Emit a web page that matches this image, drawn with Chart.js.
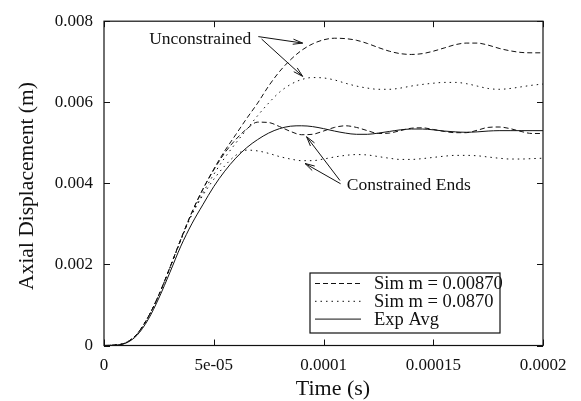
<!DOCTYPE html>
<html>
<head>
<meta charset="utf-8">
<script src="https://cdn.jsdelivr.net/npm/chart.js@4"></script>
<style>
  body { margin: 0; background: #fff; }
</style>
</head>
<body>
<canvas id="dispGraph" width="581" height="401"></canvas>
<script>
// time in microseconds, displacement in millimetres (axis labels are in s and m)
const timeUs = [0, 5, 10, 15, 20, 25, 30, 35, 40, 45, 50, 55, 60, 65, 70, 75, 80, 85, 90, 95,
    100, 105, 110, 115, 120, 125, 130, 135, 140, 145, 150, 155, 160, 165, 170, 175, 180, 185, 190, 195, 200];

// Sim m = 0.00870, unconstrained
const simLowUnc = [0, 0.01, 0.07, 0.28, 0.69, 1.25, 1.92, 2.62, 3.28, 3.85, 4.35, 4.8, 5.2, 5.6, 5.98, 6.4, 6.76, 7.05, 7.28, 7.44,
    7.54, 7.58, 7.57, 7.53, 7.45, 7.35, 7.26, 7.2, 7.18, 7.2, 7.26, 7.34, 7.42, 7.46, 7.46, 7.41, 7.33, 7.27, 7.23, 7.22, 7.22];
// Sim m = 0.0870, unconstrained
const simHighUnc = [0, 0.01, 0.07, 0.28, 0.69, 1.25, 1.91, 2.6, 3.24, 3.76, 4.22, 4.63, 4.99, 5.33, 5.67, 5.98, 6.25, 6.44, 6.56, 6.61,
    6.6, 6.55, 6.47, 6.4, 6.35, 6.32, 6.32, 6.35, 6.4, 6.44, 6.47, 6.49, 6.49, 6.46, 6.4, 6.34, 6.32, 6.34, 6.38, 6.42, 6.45];
// Sim m = 0.00870, constrained ends
const simLowCon = [0, 0.01, 0.07, 0.28, 0.69, 1.25, 1.92, 2.62, 3.28, 3.85, 4.33, 4.75, 5.08, 5.34, 5.51, 5.5, 5.4, 5.28, 5.2, 5.21,
    5.29, 5.38, 5.42, 5.38, 5.3, 5.23, 5.24, 5.3, 5.36, 5.37, 5.33, 5.28, 5.25, 5.25, 5.31, 5.38, 5.39, 5.35, 5.28, 5.23, 5.23];
// Sim m = 0.0870, constrained ends
const simHighCon = [0, 0.01, 0.07, 0.28, 0.69, 1.25, 1.91, 2.6, 3.22, 3.7, 4.1, 4.43, 4.69, 4.82, 4.8, 4.74, 4.66, 4.6, 4.56, 4.56,
    4.6, 4.65, 4.69, 4.71, 4.7, 4.66, 4.62, 4.59, 4.59, 4.61, 4.64, 4.67, 4.69, 4.69, 4.68, 4.65, 4.62, 4.6, 4.6, 4.61, 4.62];
// Exp Avg
const expAvg = [0, 0.01, 0.06, 0.25, 0.63, 1.17, 1.8, 2.45, 3.0, 3.47, 3.92, 4.3, 4.62, 4.88, 5.08, 5.24, 5.35, 5.41, 5.42, 5.4,
    5.35, 5.29, 5.24, 5.21, 5.21, 5.24, 5.28, 5.32, 5.34, 5.34, 5.32, 5.29, 5.27, 5.26, 5.27, 5.29, 5.3, 5.3, 5.3, 5.3, 5.3];

const xTickLabels = ['0', '5e-05', '0.0001', '0.00015', '0.0002'];
const yTickLabels = ['0', '0.002', '0.004', '0.006', '0.008'];
const legendLabels = ['Sim m = 0.00870', 'Sim m = 0.0870', 'Exp Avg'];

const DASHED = [5, 3];
const DOTTED = [1.5, 4];
const FONT = '"Liberation Serif", "Times New Roman", serif';
const INK = '#111';

function pts(vals) {
    return timeUs.map((t, i) => ({ x: t, y: vals[i] }));
}

function series(vals, dash) {
    return {
        data: pts(vals),
        borderColor: INK,
        borderWidth: 1,
        borderDash: dash,
        pointRadius: 0,
        fill: false,
        cubicInterpolationMode: 'monotone'
    };
}

// annotation text and arrows, in data units (us, mm)
const notes = [
    { text: 'Unconstrained', x: 20.6, y: 7.56,
      arrows: [[70.3, 7.62, 90.5, 7.46], [71.8, 7.56, 90.5, 6.64]] },
    { text: 'Constrained Ends', x: 110.6, y: 3.96,
      arrows: [[107.5, 4.07, 92.3, 5.15], [107.8, 3.99, 91.6, 4.49]] }
];

function arrow(ctx, x1, y1, x2, y2) {
    const a = Math.atan2(y2 - y1, x2 - x1);
    const len = 10, spread = 0.26;
    ctx.beginPath();
    ctx.moveTo(x1, y1);
    ctx.lineTo(x2, y2);
    ctx.moveTo(x2 - len * Math.cos(a - spread), y2 - len * Math.sin(a - spread));
    ctx.lineTo(x2, y2);
    ctx.lineTo(x2 - len * Math.cos(a + spread), y2 - len * Math.sin(a + spread));
    ctx.stroke();
}

const frame = {
    id: 'frame',
    afterDatasetsDraw(chart) {
        const ctx = chart.ctx;
        const { left, right, top, bottom } = chart.chartArea;
        const xs = chart.scales.x, ys = chart.scales.y;
        ctx.save();
        ctx.strokeStyle = INK;
        ctx.lineWidth = 1.2;
        ctx.setLineDash([]);
        ctx.strokeRect(left, top, right - left, bottom - top);

        // inward tick marks on all four sides
        ctx.lineWidth = 1;
        ctx.beginPath();
        xs.ticks.forEach(t => {
            const px = Math.round(xs.getPixelForValue(t.value)) + 0.5;
            ctx.moveTo(px, bottom); ctx.lineTo(px, bottom - 6);
            ctx.moveTo(px, top); ctx.lineTo(px, top + 6);
        });
        ys.ticks.forEach(t => {
            const py = Math.round(ys.getPixelForValue(t.value)) + 0.5;
            ctx.moveTo(left, py); ctx.lineTo(left + 6, py);
            ctx.moveTo(right, py); ctx.lineTo(right - 6, py);
        });
        ctx.stroke();

        // annotations
        ctx.fillStyle = INK;
        ctx.font = '17.5px ' + FONT;
        ctx.textBaseline = 'middle';
        ctx.textAlign = 'left';
        notes.forEach(n => {
            ctx.fillText(n.text, xs.getPixelForValue(n.x), ys.getPixelForValue(n.y));
            n.arrows.forEach(a => arrow(ctx,
                xs.getPixelForValue(a[0]), ys.getPixelForValue(a[1]),
                xs.getPixelForValue(a[2]), ys.getPixelForValue(a[3])));
        });

        // legend box
        ctx.fillStyle = '#fff';
        ctx.fillRect(310, 273, 190, 60);
        ctx.lineWidth = 1.2;
        ctx.strokeRect(310, 273, 190, 60);
        ctx.lineWidth = 1;
        ctx.fillStyle = INK;
        ctx.font = '18.5px ' + FONT;
        const dashes = [DASHED, DOTTED, []];
        legendLabels.forEach((lab, i) => {
            const y = 283.5 + i * 17.8;
            ctx.setLineDash(dashes[i]);
            ctx.beginPath();
            ctx.moveTo(315, y); ctx.lineTo(361, y);
            ctx.stroke();
            ctx.setLineDash([]);
            ctx.fillText(lab, 374, y + 1);
        });

        // axis titles
        ctx.font = '22px ' + FONT;
        ctx.textAlign = 'center';
        ctx.textBaseline = 'alphabetic';
        ctx.fillText('Time (s)', 333, 394.5);
        ctx.translate(33, 186);
        ctx.rotate(-Math.PI / 2);
        ctx.font = '21.5px ' + FONT;
        ctx.fillText('Axial Displacement (m)', 0, 0);
        ctx.restore();
    }
};

const ctx = document.getElementById('dispGraph').getContext('2d');

const dispGraph = new Chart(ctx, {
    type: 'line',
    data: {
        datasets: [
            series(simLowUnc, DASHED),
            series(simHighUnc, DOTTED),
            series(simLowCon, DASHED),
            series(simHighCon, DOTTED),
            series(expAvg, [])
        ]
    },
    options: {
        responsive: false,
        animation: false,
        layout: { padding: { left: 0, right: 38, top: 13, bottom: 0 } },
        scales: {
            x: {
                type: 'linear',
                min: 0,
                max: 200,
                afterFit: s => { s.height = 55.5; },
                grid: { display: false, drawTicks: false },
                border: { display: false },
                ticks: {
                    stepSize: 50,
                    padding: 10,
                    maxRotation: 0,
                    color: INK,
                    font: { family: FONT, size: 17 },
                    callback: (v, i) => xTickLabels[i]
                }
            },
            y: {
                min: 0,
                max: 8,
                afterFit: s => { s.width = 104; },
                grid: { display: false, drawTicks: false },
                border: { display: false },
                ticks: {
                    stepSize: 2,
                    padding: 11,
                    color: INK,
                    font: { family: FONT, size: 17 },
                    callback: (v, i) => yTickLabels[i]
                }
            }
        },
        plugins: {
            legend: { display: false },
            tooltip: { enabled: false }
        }
    },
    plugins: [frame]
});
</script>
</body>
</html>
